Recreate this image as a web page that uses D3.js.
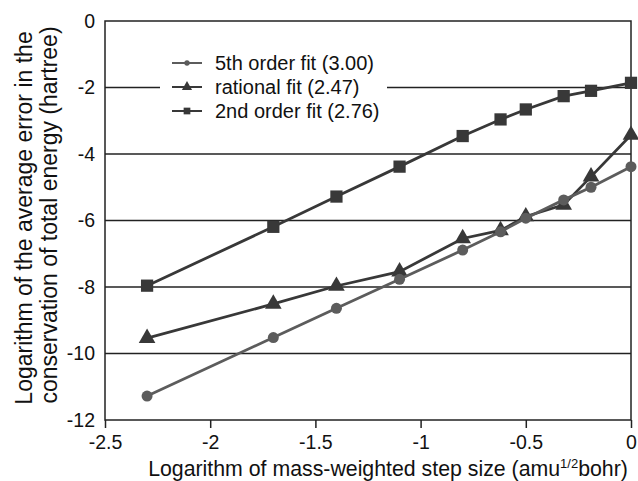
<!DOCTYPE html>
<html>
<head>
<meta charset="utf-8">
<script src="https://cdn.jsdelivr.net/npm/d3@7"></script>
<style>
  body { margin: 0; background: #fff; }
  text { font-family: "Liberation Sans", Arial, sans-serif; fill: #111; }
</style>
</head>
<body>
<div id="chart"></div>
<script>
// log10 of step size
const steps = [-2.3, -1.7, -1.4, -1.1, -0.8, -0.62, -0.5, -0.32, -0.19, 0];
const fifthOrder = [-11.28, -9.52, -8.64, -7.77, -6.89, -6.34, -5.93, -5.38, -5.0, -4.38];
const rationalFit = [-9.54, -8.51, -7.97, -7.54, -6.54, -6.3, -5.88, -5.53, -4.68, -3.43];
const secondOrder = [-7.96, -6.19, -5.28, -4.38, -3.46, -2.96, -2.66, -2.26, -2.1, -1.86];
const seriesNames = ["5th order fit (3.00)", "rational fit (2.47)", "2nd order fit (2.76)"];
const xTicks = [-2.5, -2, -1.5, -1, -0.5, 0];
const yTicks = [0, -2, -4, -6, -8, -10, -12];

const margin = {top: 21, right: 7, bottom: 61, left: 105},
    width = 638 - margin.left - margin.right,
    height = 481 - margin.top - margin.bottom;

const svg = d3.select("#chart").append("svg")
    .attr("width", 638)
    .attr("height", 481)
  .append("g")
    .attr("transform", `translate(${margin.left},${margin.top})`);

const x = d3.scaleLinear().domain([-2.5, 0]).range([0, width]);
const y = d3.scaleLinear().domain([-12, 0]).range([height, 0]);

// gridlines
svg.append("g")
  .selectAll("line")
  .data(yTicks.filter(d => d > -12 && d < 0))
  .join("line")
    .attr("x1", 0).attr("x2", width)
    .attr("y1", d => y(d)).attr("y2", d => y(d))
    .attr("stroke", "#222").attr("stroke-width", 1.5);

// frame
svg.append("rect")
  .attr("width", width).attr("height", height)
  .attr("fill", "none").attr("stroke", "#222").attr("stroke-width", 1.5);

const fmt = d => String(d);

const xAxis = svg.append("g")
  .attr("transform", `translate(0,${height})`)
  .call(d3.axisBottom(x).tickValues(xTicks).tickSize(8).tickPadding(7).tickFormat(fmt));
xAxis.select(".domain").remove();
xAxis.selectAll("line").attr("stroke", "#222").attr("stroke-width", 1.5);
xAxis.selectAll("text").style("font-size", "19.5px").attr("fill", "#111")
  .style("font-family", "Liberation Sans, Arial, sans-serif");

const yAxis = svg.append("g")
  .call(d3.axisLeft(y).tickValues(yTicks).tickSize(0).tickPadding(10).tickFormat(fmt));
yAxis.select(".domain").remove();
yAxis.selectAll("text").style("font-size", "19.5px").attr("fill", "#111")
  .style("font-family", "Liberation Sans, Arial, sans-serif");

// axis titles
const xt = svg.append("text")
  .attr("x", 283).attr("y", height + 56)
  .attr("text-anchor", "middle")
  .style("font-size", "21.3px");
xt.append("tspan").text("Logarithm of mass-weighted step size (amu");
xt.append("tspan").attr("dy", -8).style("font-size", "13px").text("1/2");
xt.append("tspan").attr("dy", 8).text("bohr)");

svg.append("text")
  .attr("transform", "rotate(-90)")
  .attr("x", -197).attr("y", 32 - margin.left)
  .attr("text-anchor", "middle")
  .style("font-size", "23px")
  .text("Logarithm of the average error in the");
svg.append("text")
  .attr("transform", "rotate(-90)")
  .attr("x", -194).attr("y", 57 - margin.left)
  .attr("text-anchor", "middle")
  .style("font-size", "23px")
  .text("conservation of total energy (hartree)");

const series = [
  {name: seriesNames[2], values: secondOrder, color: "#383838", shape: d3.symbolSquare, size: 150, legendSize: 45},
  {name: seriesNames[1], values: rationalFit, color: "#383838", shape: d3.symbolTriangle, size: 120, legendSize: 45},
  {name: seriesNames[0], values: fifthOrder, color: "#5c5c5c", shape: d3.symbolCircle, size: 95, legendSize: 22}
];

const line = d3.line().x(d => x(d[0])).y(d => y(d[1]));

series.forEach(s => {
  const pts = steps.map((v, i) => [v, s.values[i]]);
  svg.append("path")
    .datum(pts)
    .attr("fill", "none")
    .attr("stroke", s.color)
    .attr("stroke-width", 2.8)
    .attr("d", line);
  svg.append("g")
    .selectAll("path")
    .data(pts)
    .join("path")
      .attr("transform", d => `translate(${x(d[0])},${y(d[1])})`)
      .attr("d", d3.symbol().type(s.shape).size(s.size))
      .attr("fill", s.color);
});

// legend
const legend = svg.append("g").attr("transform", "translate(55,30)");
legend.append("rect")
  .attr("x", 0).attr("y", 0).attr("width", 227).attr("height", 72)
  .attr("fill", "#fff");
const legendOrder = [series[2], series[1], series[0]];
legendOrder.forEach((s, i) => {
  const cy = 12 + i * 24;
  legend.append("line")
    .attr("x1", 12).attr("x2", 42).attr("y1", cy).attr("y2", cy)
    .attr("stroke", s.color).attr("stroke-width", 2);
  legend.append("path")
    .attr("transform", `translate(27,${cy})`)
    .attr("d", d3.symbol().type(s.shape).size(s.legendSize))
    .attr("fill", s.color);
  legend.append("text")
    .attr("x", 55).attr("y", cy)
    .attr("dy", "0.35em")
    .style("font-size", "20px")
    .text(s.name);
});
</script>
</body>
</html>
